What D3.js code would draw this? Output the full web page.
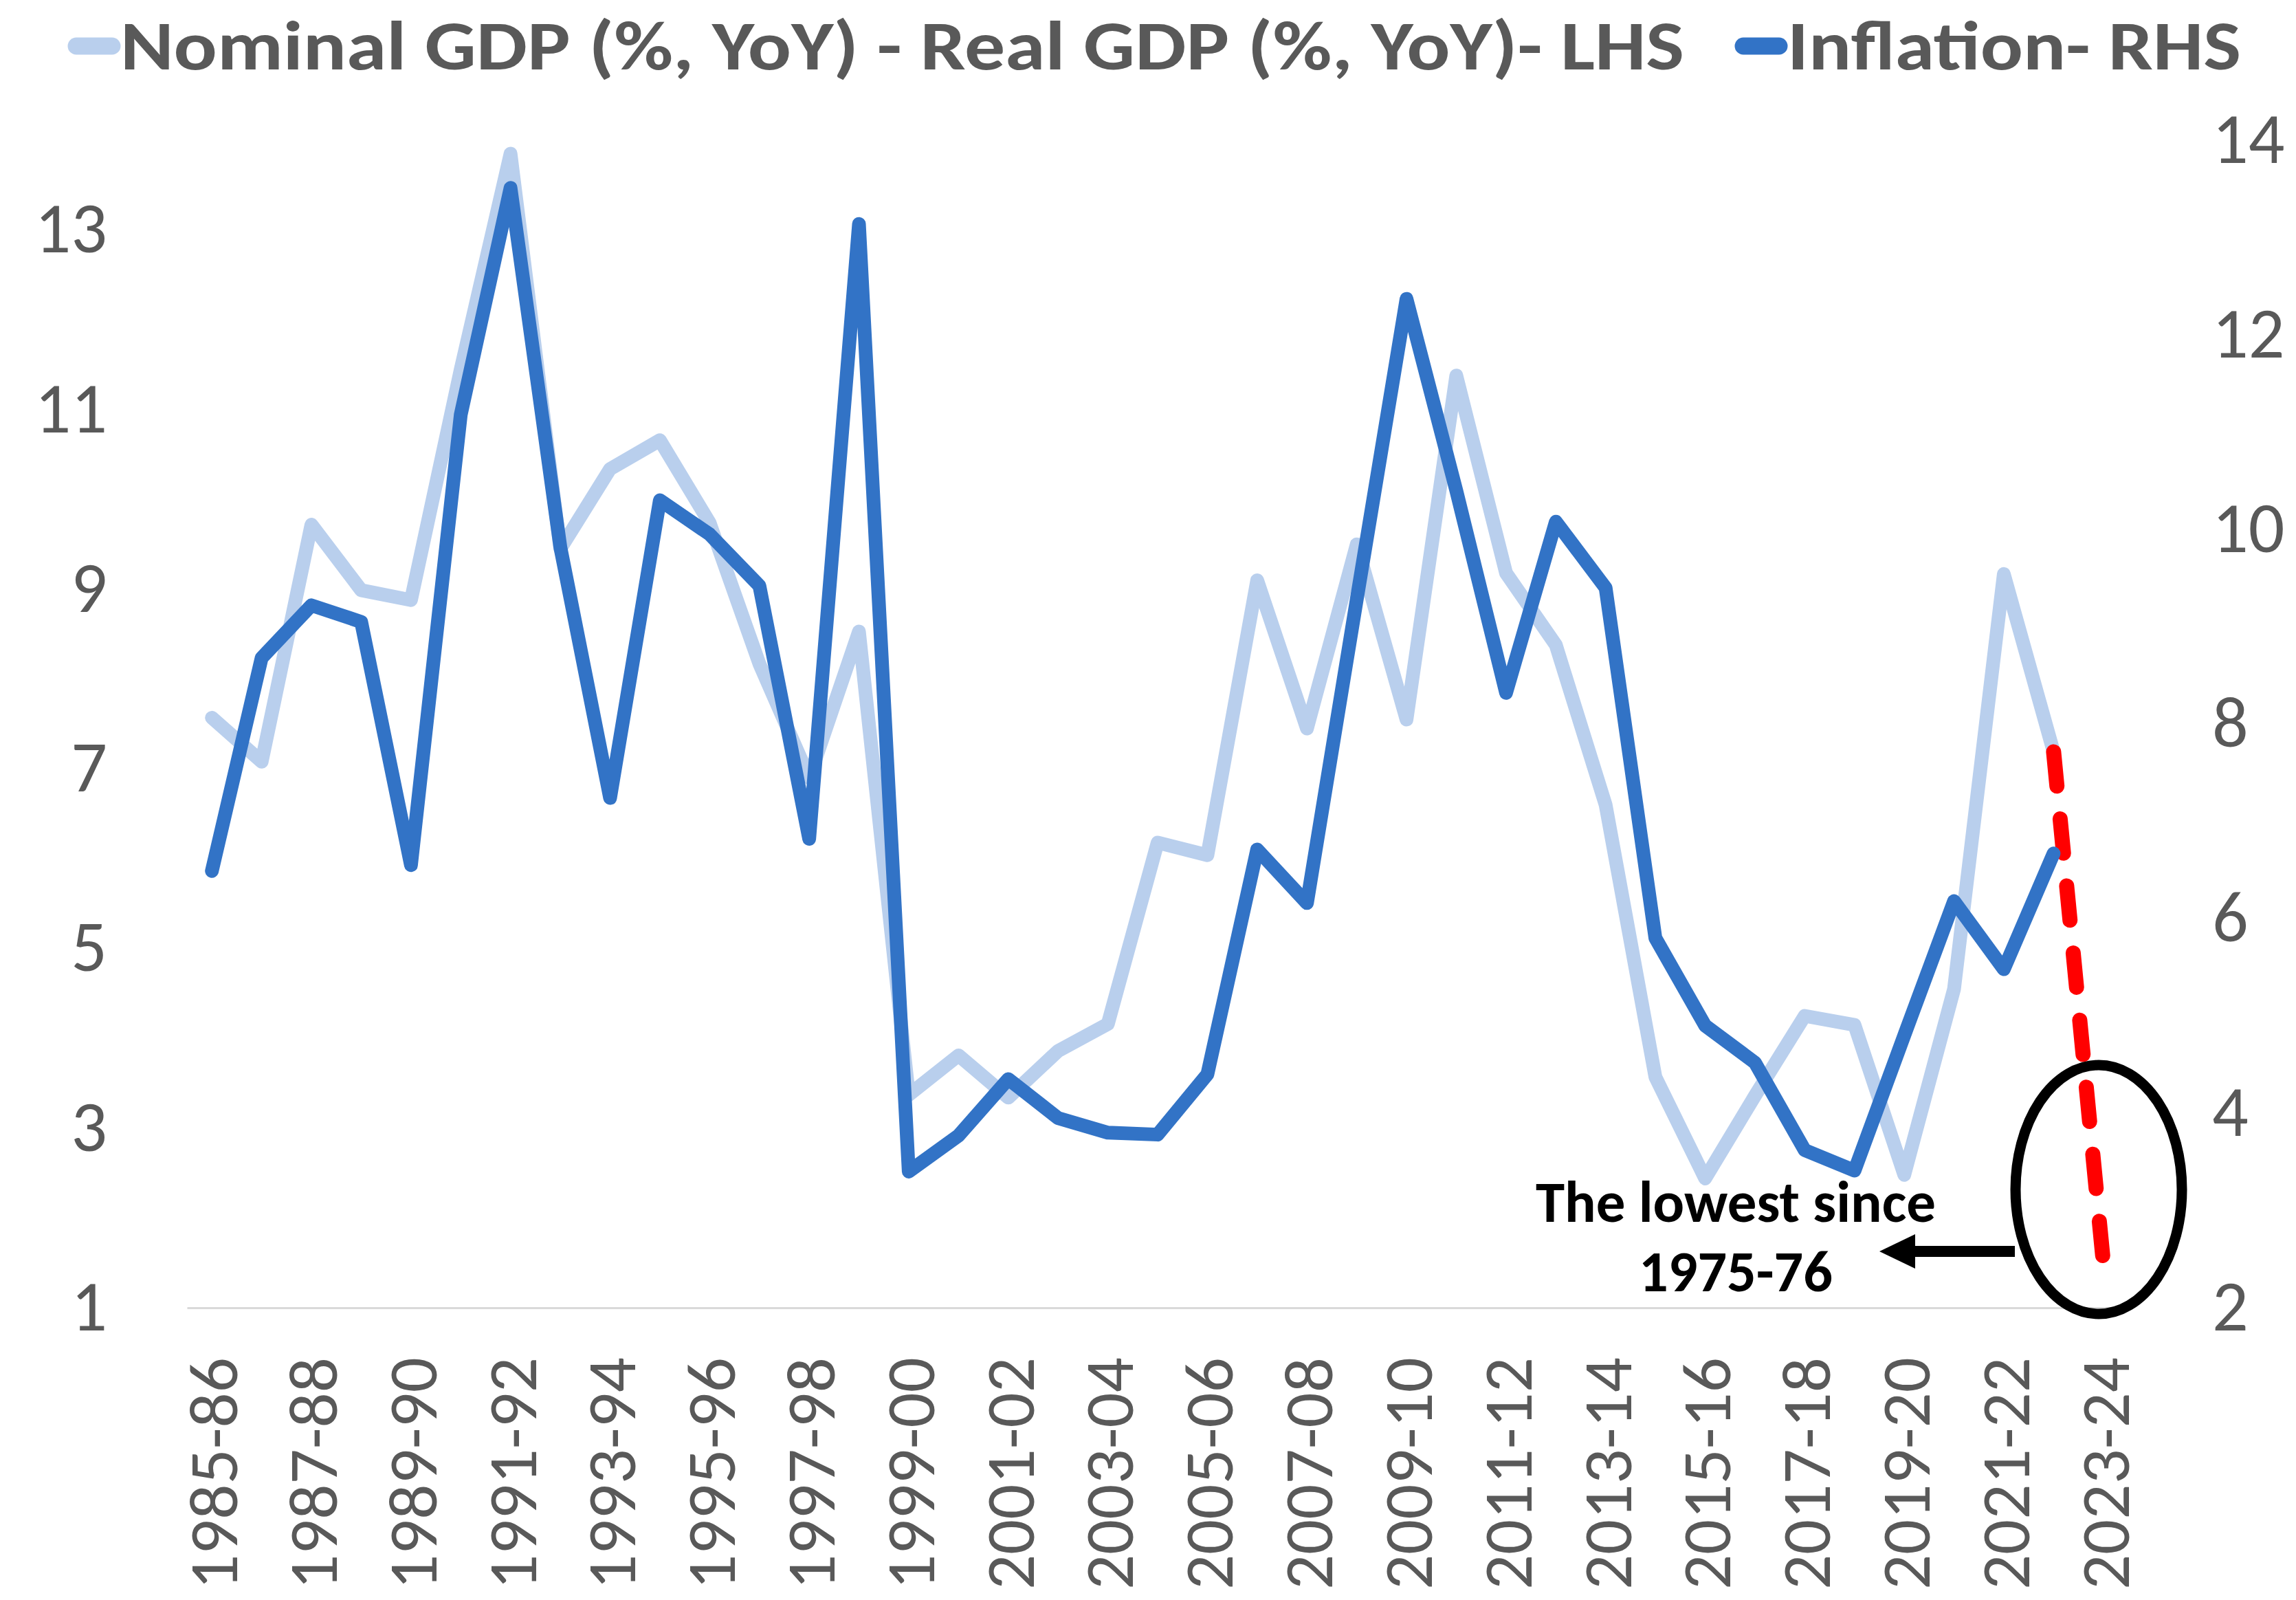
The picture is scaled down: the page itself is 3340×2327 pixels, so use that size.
<!DOCTYPE html>
<html>
<head>
<meta charset="utf-8">
<script src="https://cdn.jsdelivr.net/npm/d3@7"></script>
<style>
  body { margin: 0; background: #fff; }
  svg { display: block; }
</style>
</head>
<body>
<script>
/* ------------------	*/
/* gdp deflator chart  */
/* ------------------	*/

var categories = ["1985-86","1986-87","1987-88","1988-89","1989-90","1990-91","1991-92","1992-93",
	"1993-94","1994-95","1995-96","1996-97","1997-98","1998-99","1999-00","2000-01","2001-02",
	"2002-03","2003-04","2004-05","2005-06","2006-07","2007-08","2008-09","2009-10","2010-11",
	"2011-12","2012-13","2013-14","2014-15","2015-16","2016-17","2017-18","2018-19","2019-20",
	"2020-21","2021-22","2022-23","2023-24"]

// Nominal GDP - Real GDP, LHS (1985-86 .. 2022-23)
var gdpGap = [7.57, 7.08, 9.72, 8.99, 8.88, 11.45, 13.85, 9.45, 10.34, 10.66, 9.74, 8.17, 6.9,
	8.53, 3.37, 3.81, 3.34, 3.86, 4.16, 6.18, 6.04, 9.1, 7.45, 9.5, 7.55, 11.38, 9.18, 8.38,
	6.6, 3.57, 2.44, 3.36, 4.25, 4.15, 2.48, 4.55, 9.17, 7.19]

// Inflation, RHS (1985-86 .. 2022-23)
var inflation = [6.49, 8.68, 9.22, 9.05, 6.55, 11.18, 13.51, 9.82, 7.24, 10.3, 9.95, 9.42, 6.82,
	13.14, 3.4, 3.77, 4.35, 3.95, 3.8, 3.78, 4.4, 6.71, 6.16, 9.28, 12.37, 10.4, 8.32, 10.08,
	9.4, 5.8, 4.9, 4.52, 3.62, 3.41, 4.8, 6.18, 5.48, 6.67]

// dashed estimate, LHS
var gapEstimateCats = ["2022-23", "2023-24"]
var gapEstimate = [7.19, 1.5]

var leftTicks = [1, 3, 5, 7, 9, 11, 13]
var rightTicks = [2, 4, 6, 8, 10, 12, 14]

var legendLabels = ["Nominal GDP (%, YoY) - Real GDP (%, YoY)- LHS", "Inflation- RHS"]
var noteLines = ["The lowest since", "1975-76"]

var width = 3340
var height = 2327
var plotLeft = 272, plotRight = 3096, plotTop = 204, plotBottom = 1902
var lightBlue = "#b9cfed"
var darkBlue = "#3273c6"
var grey = "#595959"
var font = "Calibri, Carlito, Lato, sans-serif"

var svg = d3.select("body").append("svg")
	.attr("width", width)
	.attr("height", height)

var x = d3.scalePoint()
	.domain(categories)
	.range([plotLeft, plotRight])
	.padding(0.5)

var yL = d3.scaleLinear().domain([1, 14]).range([plotBottom, plotTop])
var yR = d3.scaleLinear().domain([2, 14]).range([plotBottom, plotTop])

// axes
var xAxis = svg.append("g")
	.attr("transform", "translate(0," + plotBottom + ")")
	.call(d3.axisBottom(x)
		.tickValues(categories.filter(function(d, i) { return i % 2 == 0 }))
		.tickSize(0)
		.tickSizeOuter(0))

xAxis.select(".domain")
	.attr("stroke", "#d9d9d9")
	.attr("stroke-width", 3)

xAxis.selectAll("text")
	.attr("transform", "rotate(-90)")
	.attr("x", -72)
	.attr("y", 0)
	.attr("dy", "0.36em")
	.style("text-anchor", "end")
	.style("font-family", font)
	.style("font-size", "101px")
	.style("fill", grey)

var leftAxis = svg.append("g")
	.attr("transform", "translate(" + plotLeft + ",0)")
	.call(d3.axisLeft(yL).tickValues(leftTicks).tickSize(0).tickPadding(plotLeft - 156))

var rightAxis = svg.append("g")
	.attr("transform", "translate(" + plotRight + ",0)")
	.call(d3.axisRight(yR).tickValues(rightTicks).tickSize(0).tickPadding(3218 - plotRight))

svg.selectAll(".domain").filter(function() { return this.parentNode != xAxis.node() }).remove()

leftAxis.selectAll("text").attr("dy", "0.31em")
rightAxis.selectAll("text").attr("dy", "0.31em")

svg.selectAll("g text")
	.style("font-family", font)
	.style("fill", grey)
leftAxis.selectAll("text").style("font-size", "104px")
rightAxis.selectAll("text").style("font-size", "104px")

// lines
var lineL = d3.line()
	.x(function(d, i) { return x(categories[i]) })
	.y(function(d) { return yL(d) })

var lineR = d3.line()
	.x(function(d, i) { return x(categories[i]) })
	.y(function(d) { return yR(d) })

var lineEst = d3.line()
	.x(function(d, i) { return x(gapEstimateCats[i]) })
	.y(function(d) { return yL(d) })

svg.append("path")
	.datum(gdpGap)
	.attr("d", lineL)
	.attr("fill", "none")
	.attr("stroke", lightBlue)
	.attr("stroke-width", 20)
	.attr("stroke-linejoin", "round")
	.attr("stroke-linecap", "round")

svg.append("path")
	.datum(gapEstimate)
	.attr("d", lineEst)
	.attr("fill", "none")
	.attr("stroke", "#ff0000")
	.attr("stroke-width", 22)
	.attr("stroke-linecap", "round")
	.attr("stroke-dasharray", "50 48")

svg.append("path")
	.datum(inflation)
	.attr("d", lineR)
	.attr("fill", "none")
	.attr("stroke", darkBlue)
	.attr("stroke-width", 20)
	.attr("stroke-linejoin", "round")
	.attr("stroke-linecap", "round")

// legend
var legendItems = [
	{ label: legendLabels[0], color: lightBlue, x0: 99, len: 2275 },
	{ label: legendLabels[1], color: darkBlue, x0: 2524, len: 660 }
]

var legend = svg.append("g").selectAll("g")
	.data(legendItems)
	.enter().append("g")

legend.append("line")
	.attr("x1", function(d) { return d.x0 + 12 })
	.attr("x2", function(d) { return d.x0 + 64 })
	.attr("y1", 67)
	.attr("y2", 67)
	.attr("stroke", function(d) { return d.color })
	.attr("stroke-width", 25)
	.attr("stroke-linecap", "round")

legend.append("text")
	.attr("x", function(d) { return d.x0 + 76 })
	.attr("y", 101)
	.attr("textLength", function(d) { return d.len })
	.attr("lengthAdjust", "spacingAndGlyphs")
	.style("font-family", font)
	.style("font-weight", "bold")
	.style("font-size", "102px")
	.style("fill", grey)
	.text(function(d) { return d.label })

// annotation
svg.append("ellipse")
	.attr("cx", 3053)
	.attr("cy", 1730)
	.attr("rx", 121)
	.attr("ry", 181)
	.attr("fill", "none")
	.attr("stroke", "#000")
	.attr("stroke-width", 15)

svg.append("line")
	.attr("x1", 2931)
	.attr("x2", 2775)
	.attr("y1", 1820)
	.attr("y2", 1820)
	.attr("stroke", "#000")
	.attr("stroke-width", 16)

svg.append("path")
	.attr("d", "M2734,1820 L2786,1795 L2786,1845 Z")
	.attr("fill", "#000")

svg.append("g").selectAll("text")
	.data(noteLines)
	.enter().append("text")
	.attr("x", 2525)
	.attr("y", function(d, i) { return 1777 + i * 101 })
	.attr("text-anchor", "middle")
	.attr("textLength", function(d, i) { return i == 0 ? 582 : 282 })
	.attr("lengthAdjust", "spacingAndGlyphs")
	.style("font-family", font)
	.style("font-weight", "bold")
	.style("font-size", "84px")
	.style("fill", "#000")
	.text(function(d) { return d })
</script>
</body>
</html>
